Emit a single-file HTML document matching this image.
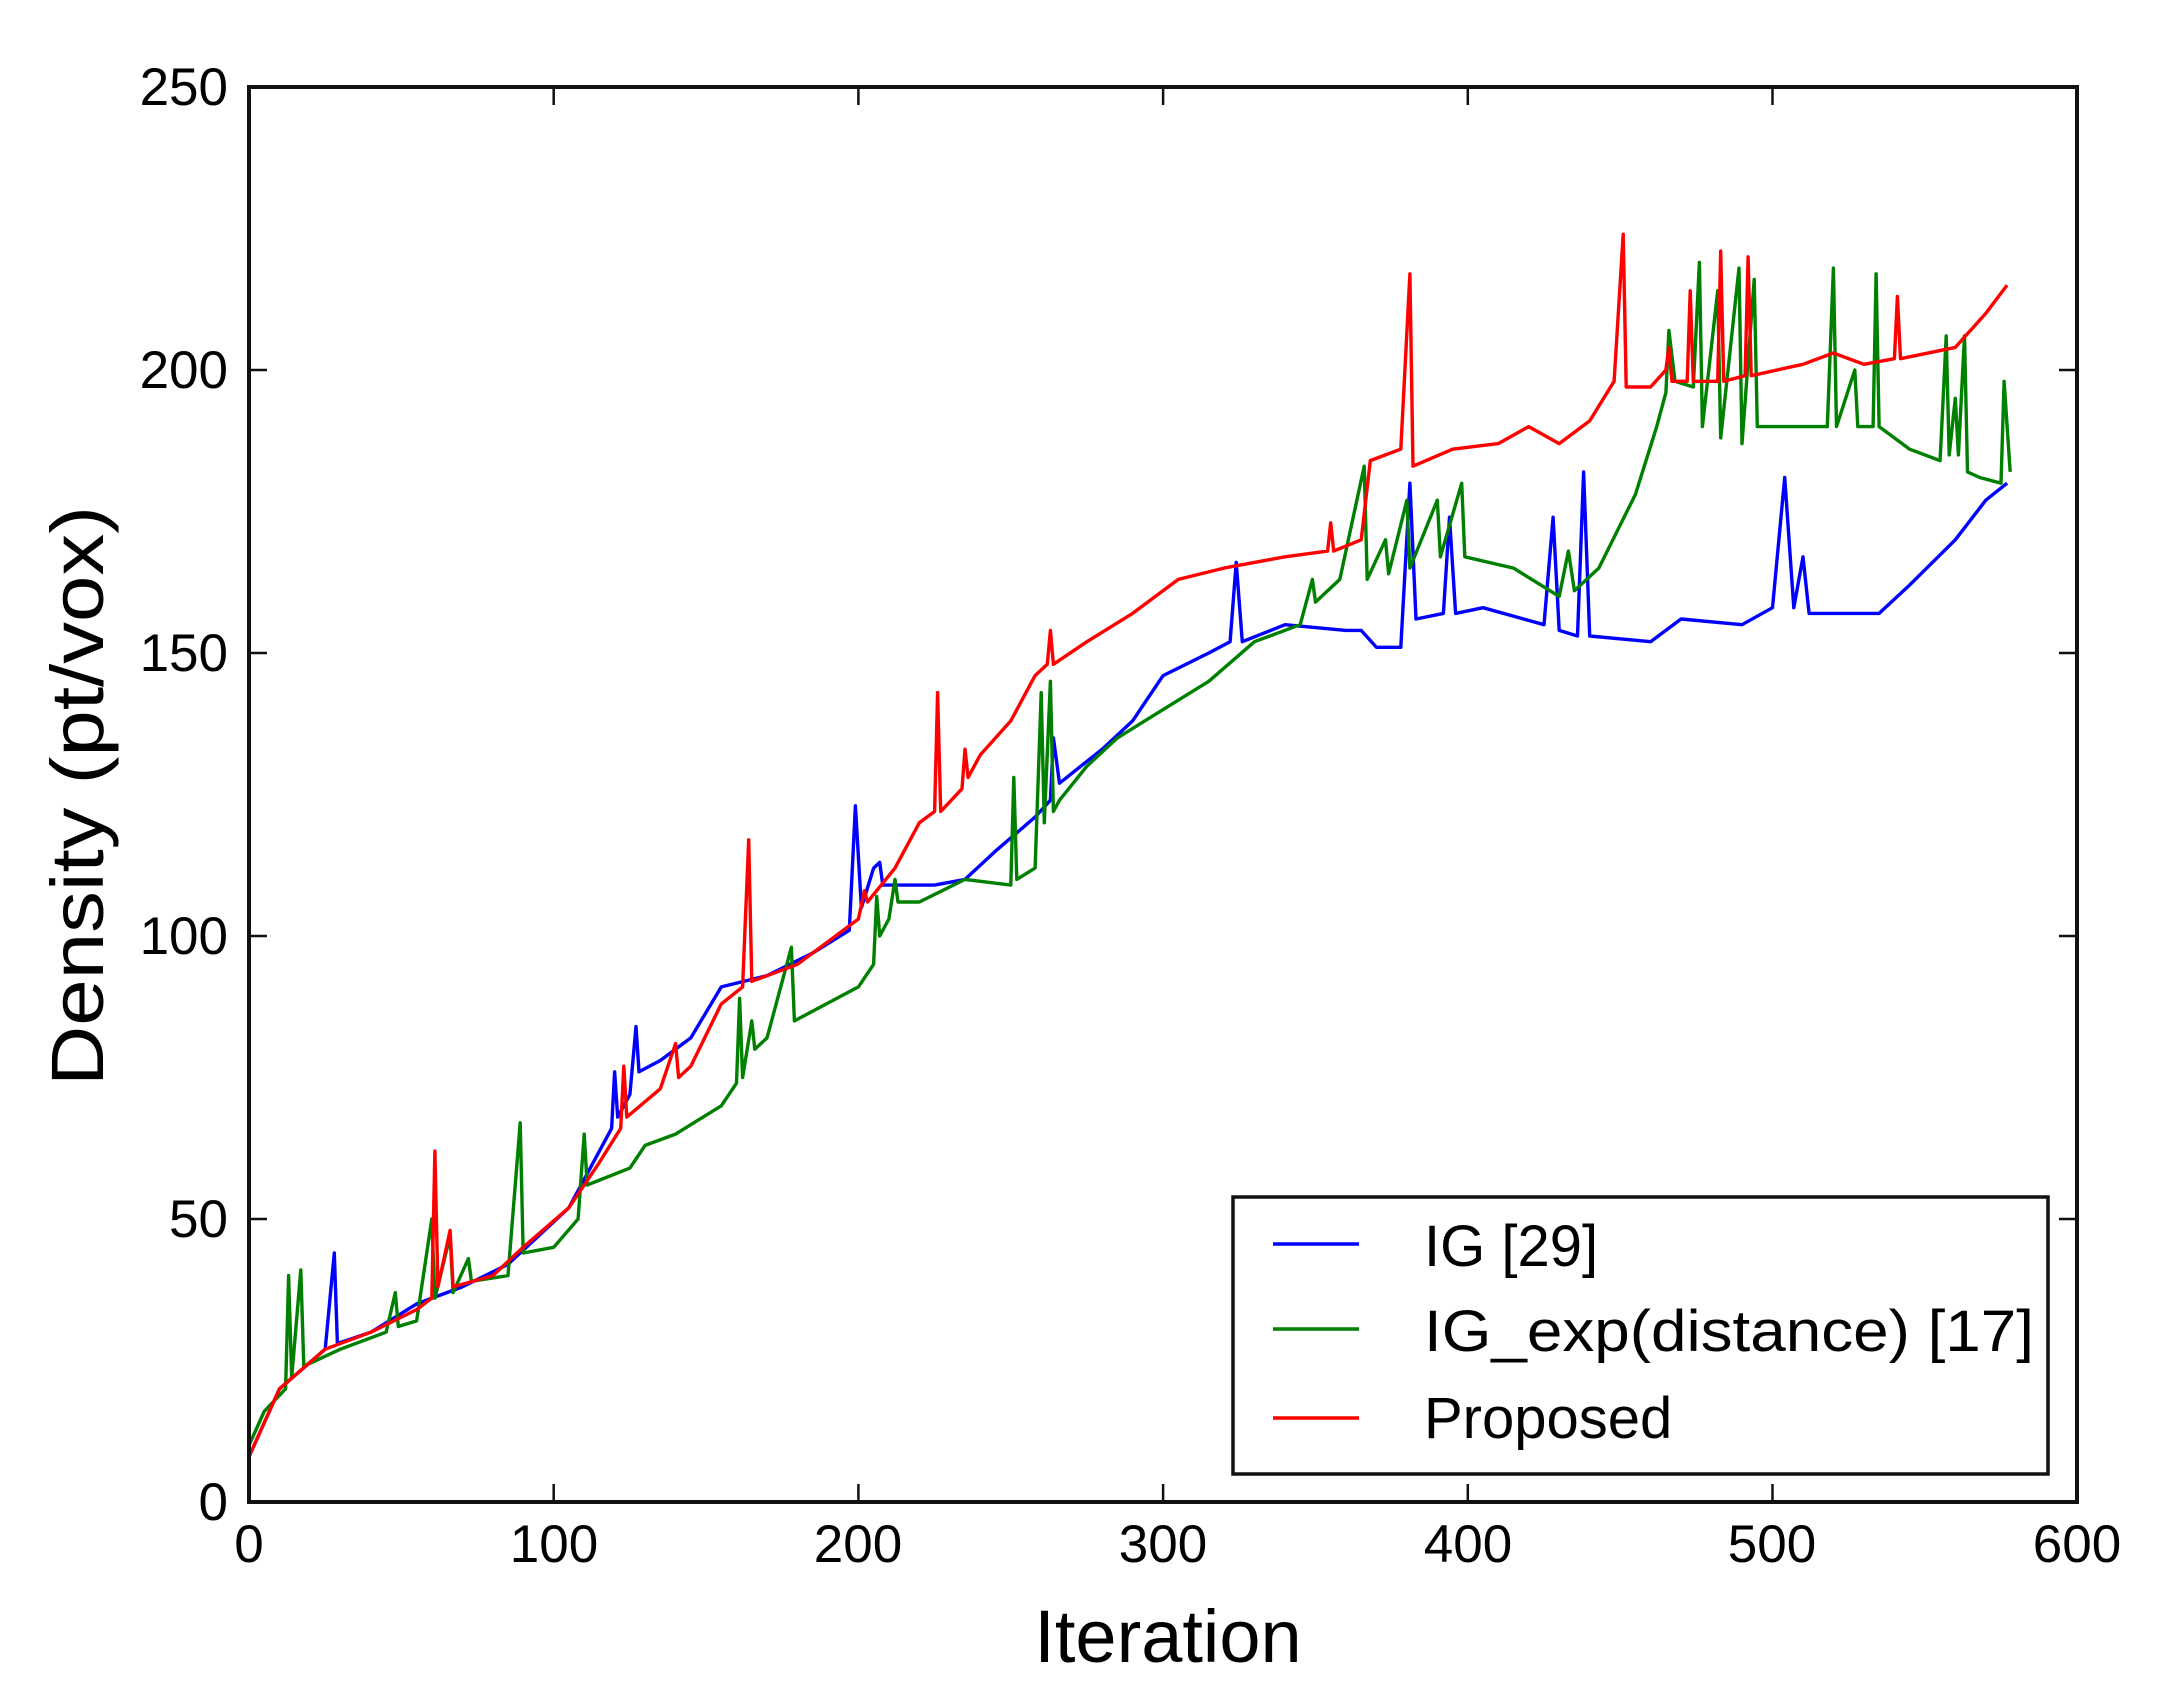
<!DOCTYPE html>
<html><head><meta charset="utf-8"><style>
html,body{margin:0;padding:0;background:#fff;}
svg{display:block;}
text{font-family:"Liberation Sans","DejaVu Sans",sans-serif;fill:#000;}
</style></head><body>
<svg id="s" width="2160" height="1691" viewBox="0 0 2160 1691" xmlns="http://www.w3.org/2000/svg">
<g id="lines"></g>
<rect x="249" y="87" width="1828" height="1415" fill="none" stroke="#111" stroke-width="4"/>
<g id="ticks" stroke="#111" stroke-width="2.5"></g>
<g font-size="53" text-anchor="end">
<text x="228" y="1520">0</text>
<text x="228" y="1237">50</text>
<text x="228" y="954">100</text>
<text x="228" y="671">150</text>
<text x="228" y="388">200</text>
<text x="228" y="105">250</text>
</g>
<g font-size="53" text-anchor="middle">
<text x="249" y="1562">0</text>
<text x="554" y="1562">100</text>
<text x="858" y="1562">200</text>
<text x="1163" y="1562">300</text>
<text x="1468" y="1562">400</text>
<text x="1772" y="1562">500</text>
<text x="2077" y="1562">600</text>
</g>
<text x="1168" y="1662" font-size="74" text-anchor="middle">Iteration</text>
<text transform="translate(103,796) rotate(-90)" font-size="74" text-anchor="middle" textLength="580" lengthAdjust="spacingAndGlyphs">Density (pt/vox)</text>
<rect x="1233" y="1197" width="815" height="277" fill="#fff" stroke="#111" stroke-width="3.5"/>
<line x1="1273" y1="1244" x2="1359" y2="1244" stroke="#0000ff" stroke-width="3.5"/>
<line x1="1273" y1="1329" x2="1359" y2="1329" stroke="#008000" stroke-width="3.5"/>
<line x1="1273" y1="1418" x2="1359" y2="1418" stroke="#ff0000" stroke-width="3.5"/>
<g font-size="58">
<text x="1424" y="1266">IG [29]</text>
<text x="1424" y="1351" textLength="610" lengthAdjust="spacingAndGlyphs">IG_exp(distance) [17]</text>
<text x="1424" y="1438">Proposed</text>
</g>
</svg>
<script>
function X(i){return 249+i*3.047;}
function Y(v){return 1502-v*5.66;}
var blue=[0,8,10,20,25,27,28,44,29,28,40,30,55,35,70,38,85,42,95,47,105,52,115,62,119,66,120,76,121,68,125,72,127,84,128,76,135,78,145,82,155,91,170,93,185,97,197,101,199,123,201,105,205,112,207,113,208,109,225,109,235,110,245,115,258,121,263,124,264,135,266,127,280,133,290,138,300,146,315,150,322,152,324,166,326,152,340,155,360,154,365,154,370,151,378,151,381,180,383,156,392,157,394,174,396,157,405,158,425,155,428,174,430,154,436,153,438,182,440,153,460,152,470,156,490,155,500,158,504,181,507,158,510,167,512,157,535,157,545,162,560,170,570,177,577,180];
var green=[0,10,5,16,12,20,13,40,14,22,17,41,18,24,30,27,45,30,48,37,49,31,55,32,60,50,61,36,66,47,67,37,72,43,73,39,85,40,89,67,90,44,100,45,108,50,110,65,111,56,125,59,130,63,140,65,155,70,160,74,161,89,162,75,165,85,166,80,170,82,178,98,179,85,200,91,205,95,206,107,207,100,210,103,212,110,213,106,220,106,235,110,250,109,251,128,252,110,258,112,260,143,261,120,263,145,264,122,266,124,275,130,285,135,300,140,315,145,330,152,345,155,349,163,350,159,358,163,366,183,367,163,373,170,374,164,380,177,381,165,390,177,391,167,398,180,399,167,415,165,430,160,433,168,435,161,443,165,455,178,462,190,465,196,466,207,468,198,474,197,476,219,477,190,482,214,483,188,489,218,490,187,494,216,495,190,518,190,520,218,521,190,527,200,528,190,533,190,534,217,535,190,545,186,555,184,557,206,558,185,560,195,561,185,563,206,564,182,568,181,575,180,576,198,578,182];
var red=[0,8,10,20,25,27,40,30,55,34,60,36,61,62,62,38,66,48,67,38,80,40,90,45,105,52,115,60,122,66,123,77,124,68,135,73,140,81,141,75,145,77,155,88,162,91,164,117,165,92,180,95,190,99,200,103,202,108,203,106,212,112,220,120,225,122,226,143,227,122,234,126,235,133,236,128,240,132,250,138,258,146,262,148,263,154,264,148,275,152,290,157,305,163,320,165,340,167,354,168,355,173,356,168,365,170,368,184,378,186,381,217,382,183,395,186,410,187,420,190,430,187,440,191,448,198,451,224,452,197,460,197,465,200,466,204,467,198,472,198,473,214,474,198,482,198,483,221,484,198,491,199,492,220,493,199,510,201,520,203,530,201,540,202,541,213,542,202,560,204,570,210,577,215];
var g=document.getElementById('lines');
function poly(d,c){var p=[];for(var k=0;k<d.length;k+=2){p.push(X(d[k]).toFixed(1)+','+Y(d[k+1]).toFixed(1));}
var e=document.createElementNS('http://www.w3.org/2000/svg','polyline');e.setAttribute('points',p.join(' '));e.setAttribute('fill','none');e.setAttribute('stroke',c);e.setAttribute('stroke-width','3.4');e.setAttribute('stroke-linejoin','round');g.appendChild(e);}
poly(blue,'#0000ff');poly(green,'#008000');poly(red,'#ff0000');
var t=document.getElementById('ticks'),h='';
for(var i=1;i<6;i++){var x=X(i*100);h+='<line x1="'+x+'" y1="1502" x2="'+x+'" y2="1484"/><line x1="'+x+'" y1="87" x2="'+x+'" y2="105"/>';}
for(var v=50;v<250;v+=50){var y=Y(v);h+='<line x1="249" y1="'+y+'" x2="267" y2="'+y+'"/><line x1="2077" y1="'+y+'" x2="2059" y2="'+y+'"/>';}
t.innerHTML=h;
</script>
</body></html>
